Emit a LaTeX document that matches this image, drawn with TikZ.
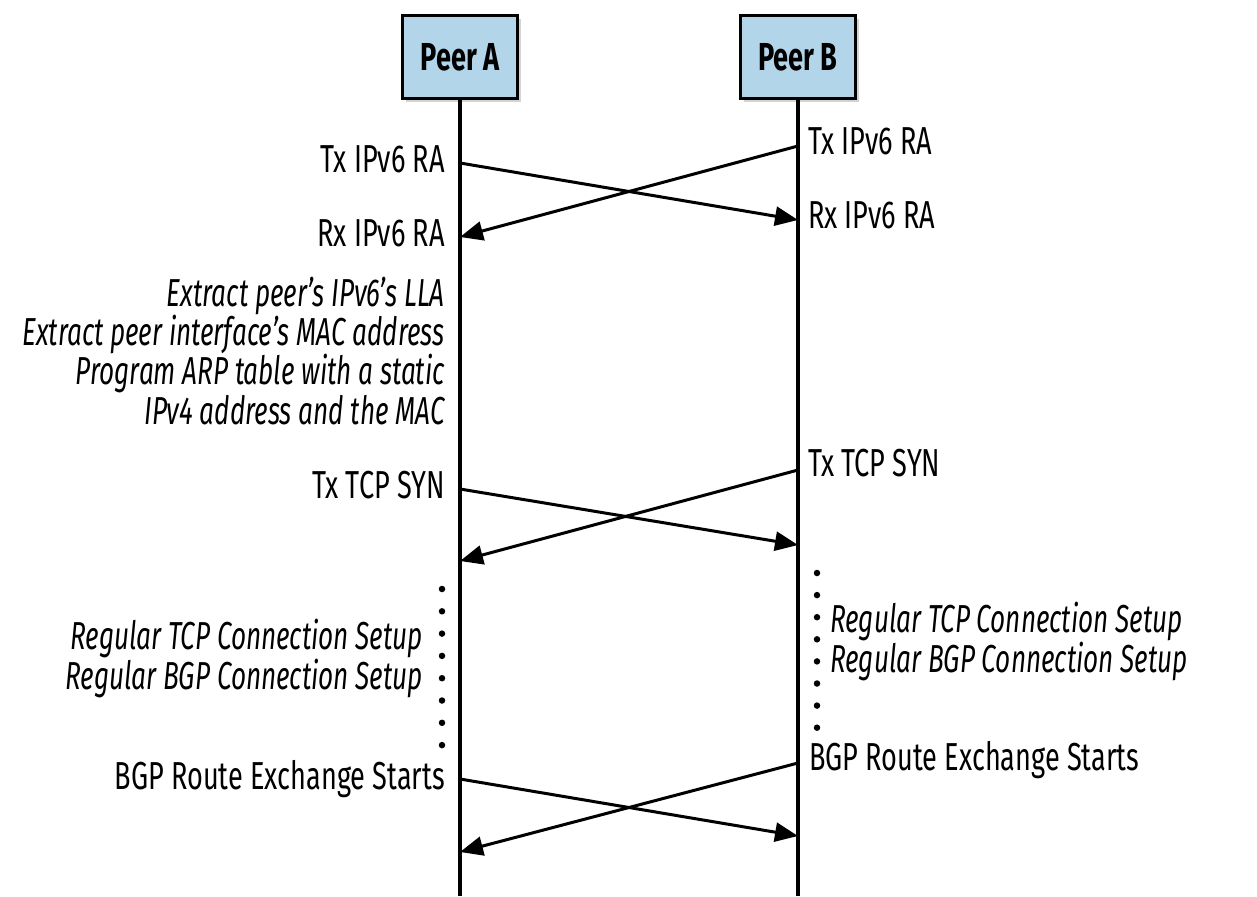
\documentclass[tikz,border=0pt]{standalone}
\usepackage{fontspec}
\setmainfont{Fira Sans}[FakeStretch=0.695, ItalicFeatures={FakeStretch=0.67}]
\usetikzlibrary{arrows.meta,positioning,shadows}
\definecolor{cPeer}{HTML}{B3D5EA}

\begin{document}
\begin{tikzpicture}[x=1pt, y=-1pt,
    font=\fontsize{39}{39.3}\selectfont,
    peer/.style={draw=black, line width=3.2pt, fill=cPeer, minimum width=115pt, minimum height=83pt,
        font=\fontsize{39}{39.3}\selectfont\bfseries,
        drop shadow={shadow xshift=3pt, shadow yshift=-4pt, opacity=0.35}},
    life/.style={line width=3.4pt, draw=black},
    msg/.style={-{Triangle[length=23pt, width=19pt]}, line width=3pt, draw=black},
    lbl/.style={inner sep=0pt},
    act/.style={inner sep=0pt, align=right, font=\fontsize{39}{39.3}\selectfont\itshape},
    actr/.style={inner sep=0pt, align=left, font=\fontsize{39}{39.3}\selectfont\itshape},
    dot/.style={circle, fill=black, inner sep=0pt, minimum size=6.5pt}
]
\useasboundingbox (0,0) rectangle (1257,896);

% peers and lifelines
\node[peer] (peerA) at (460,57) {Peer A};
\node[peer] (peerB) at (798,57) {Peer B};
\coordinate (endA) at (460,896);
\coordinate (endB) at (798,896);
\draw[life] (peerA.south) -- (endA);
\draw[life] (peerB.south) -- (endB);

% IPv6 RA exchange
\coordinate (ra1) at (460,163);
\coordinate (ra2) at (798,220);
\coordinate (ra3) at (798,146);
\coordinate (ra4) at (460,237);
\draw[msg] (ra1) -- (ra2);
\draw[msg] (ra3) -- (ra4);
\node[lbl, anchor=base east] (txRaA) at (445,173) {Tx IPv6 RA};
\node[lbl, anchor=base east] (rxRaA) at (445,246) {Rx IPv6 RA};
\node[lbl, anchor=base west] (txRaB) at (808,155) {Tx IPv6 RA};
\node[lbl, anchor=base west] (rxRaB) at (808,228) {Rx IPv6 RA};

\node[act, anchor=base east] (extract) at (445,424) {Extract peer's IPv6's LLA\\Extract peer interface's MAC address\\Program ARP table with a static\\IPv4 address and the MAC};

% TCP SYN exchange
\coordinate (syn1) at (460,489);
\coordinate (syn2) at (798,545);
\coordinate (syn3) at (798,470);
\coordinate (syn4) at (460,561);
\draw[msg] (syn1) -- (syn2);
\draw[msg] (syn3) -- (syn4);
\node[lbl, anchor=base east] (synA) at (445,498) {Tx TCP SYN};
\node[lbl, anchor=base west] (synB) at (808,476) {Tx TCP SYN};

% regular setup
\foreach \i in {0,...,7} {
    \node[dot] (dotA\i) at (442,589+22.3*\i) {};
    \node[dot] (dotB\i) at (817,573+22.1*\i) {};
}
\node[act, anchor=base east] (setupA) at (423,689) {Regular TCP Connection Setup\\Regular BGP Connection Setup};
\node[actr, anchor=base west] (setupB) at (830,672) {Regular TCP Connection Setup\\Regular BGP Connection Setup};

% BGP route exchange
\coordinate (bgp1) at (460,779);
\coordinate (bgp2) at (798,836);
\coordinate (bgp3) at (798,763);
\coordinate (bgp4) at (460,852);
\draw[msg] (bgp1) -- (bgp2);
\draw[msg] (bgp3) -- (bgp4);
\node[lbl, anchor=base east] (bgpA) at (445,789) {BGP Route Exchange Starts};
\node[lbl, anchor=base west] (bgpB) at (809,770) {BGP Route Exchange Starts};

\end{tikzpicture}
\end{document}
